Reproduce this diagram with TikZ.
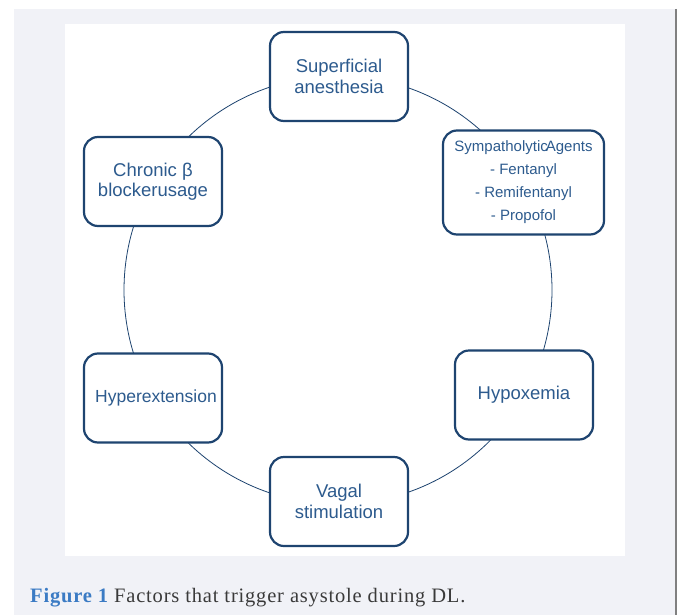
\documentclass[tikz,border=0pt]{standalone}
\usepackage{fontspec}
\setmainfont{Liberation Serif}
\newfontfamily\boxfont{Liberation Sans}
\newfontfamily\capfont[LetterSpace=4]{Liberation Serif}
\usetikzlibrary{positioning}
\definecolor{navy}{HTML}{1E4470}
\definecolor{labelblue}{HTML}{2D5B8E}
\definecolor{panel}{HTML}{F1F2F7}
\definecolor{capblue}{HTML}{3B7BC4}
\definecolor{capgrey}{HTML}{3A3A3A}
\tikzset{factor/.style={draw=navy,line width=2.2pt,rounded corners=14pt,fill=white,text=labelblue,align=center,
    font=\boxfont\fontsize{18.5}{20.5}\selectfont,minimum width=138pt,minimum height=89pt,inner sep=2pt}}
\tikzset{ring/.style={draw=navy,line width=0.8pt}}

\begin{document}
\begin{tikzpicture}[x=1pt,y=-1pt]
  \useasboundingbox (0,0) rectangle (679,615);
  % page and panel
  \fill[white] (0,0) rectangle (679,615);
  \fill[panel] (14,9) rectangle (675,615);
  \fill[white] (65,24) rectangle (625,556);
  \draw[gray,line width=1.5pt] (676,9) -- (676,615);
  % ring behind the boxes
  \coordinate (hub) at (338,290);
  \draw[ring] (hub) circle[radius=214];
  \node[factor] (superficial) at (339,76.5) {Superficial\\anesthesia};
  \node[factor,minimum width=161pt,minimum height=104pt,font=\boxfont\fontsize{15}{23}\selectfont] (sympatho) at (523.5,182.5)
    {Sympatholytic\kern-2ptAgents\\- Fentanyl\\- Remifentanyl\\- Propofol};
  \node[factor] (chronic) at (153,181.5) {Chronic β\\blockerusage};
  \node[factor,font=\boxfont\fontsize{17.5}{20}\selectfont] (hyperext) at (153,398) {\hspace*{6pt}Hyperextension};
  \node[factor] (hypoxemia) at (524,395) {Hypoxemia};
  \node[factor] (vagal) at (339,501.5) {Vagal\\stimulation};
  % caption
  \node[anchor=base west,inner sep=0pt,text=capgrey,font=\capfont\fontsize{20.5}{23}\selectfont] (caption) at (30,602)
    {\textcolor{capblue}{\bfseries Figure 1} Factors that trigger asystole during DL.};
\end{tikzpicture}
\end{document}
